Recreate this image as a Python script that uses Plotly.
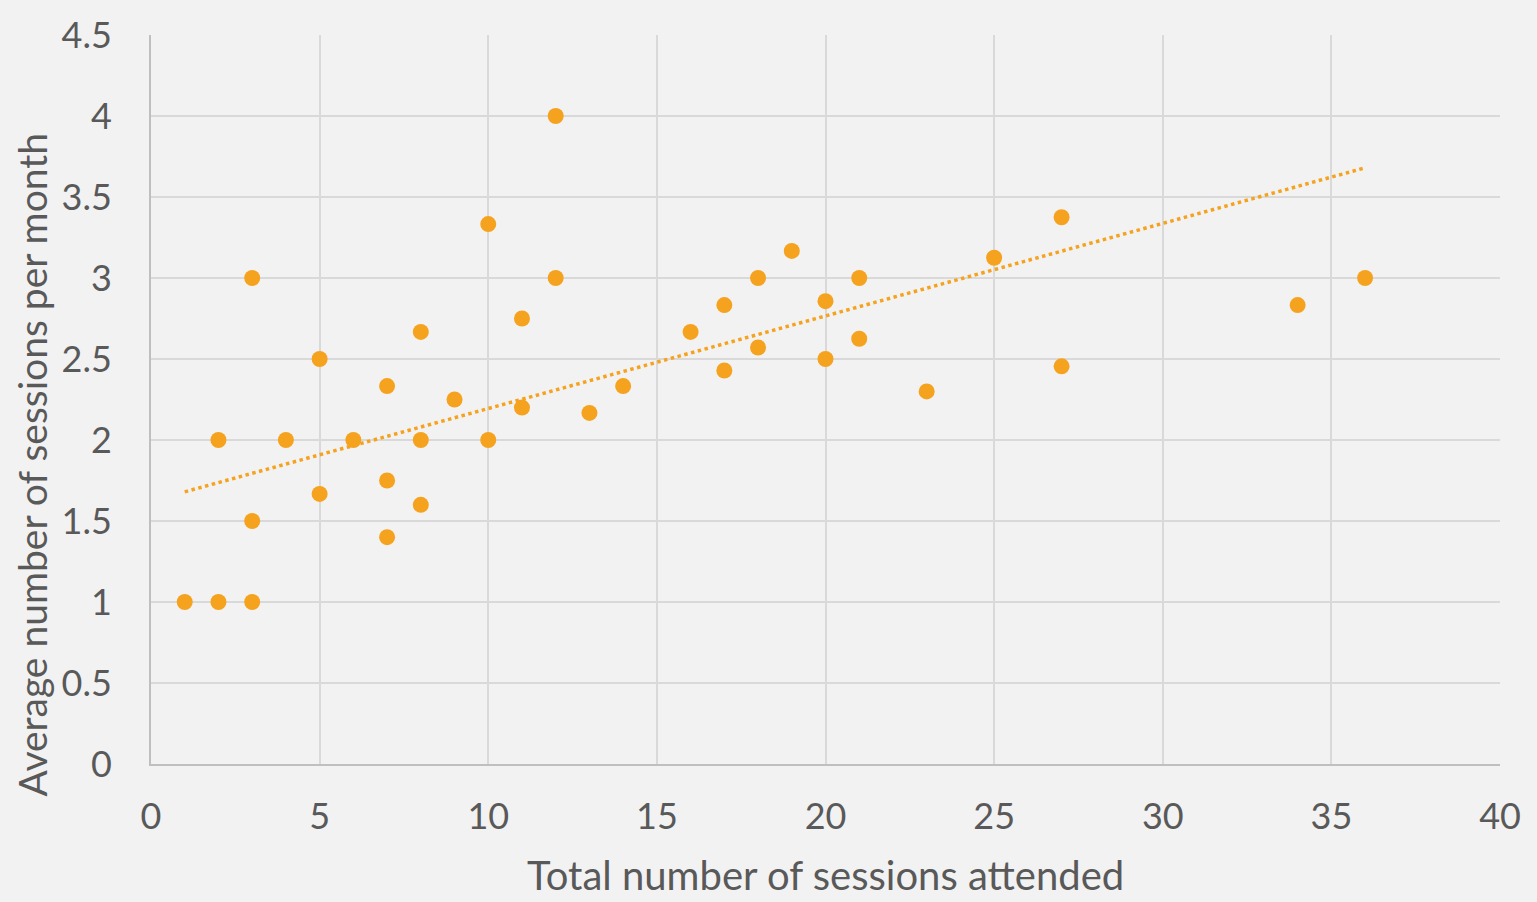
import plotly.graph_objects as go

total_sessions = [1, 2, 3, 2, 3, 3, 4, 5, 5, 6, 7, 7, 7, 8, 8, 8, 9, 10, 10, 11, 11, 12, 12, 13, 14,
                  16, 17, 17, 18, 18, 19, 20, 20, 21, 21, 23, 25, 27, 27, 34, 36]
avg_per_month = [1, 1, 1, 2, 1.5, 3, 2, 2.5, 1.667, 2, 2.333, 1.75, 1.4, 2.667, 2, 1.6, 2.25, 3.333, 2, 2.75, 2.2, 4, 3, 2.167, 2.333,
                 2.667, 2.833, 2.429, 3, 2.571, 3.167, 2.857, 2.5, 3, 2.625, 2.3, 3.125, 3.375, 2.455, 2.833, 3]

# linear trendline end points
trend_x = [1, 36]
trend_y = [1.68, 3.68]

x_ticks = [0, 5, 10, 15, 20, 25, 30, 35, 40]
y_ticks = [0, 0.5, 1, 1.5, 2, 2.5, 3, 3.5, 4, 4.5]
y_tick_labels = ["0", "0.5", "1", "1.5", "2", "2.5", "3", "3.5", "4", "4.5"]

x_title = "Total number of sessions attended"
y_title = "Average number of sessions per month"

orange = "#F5A31E"
text_col = "#595959"
font_family = "Lato, 'Open Sans', sans-serif"

fig = go.Figure()
fig.add_trace(go.Scatter(x=trend_x, y=trend_y, mode="lines",
                         line=dict(color=orange, width=3.5, dash="dot"),
                         hoverinfo="skip", showlegend=False))
fig.add_trace(go.Scatter(x=total_sessions, y=avg_per_month, mode="markers",
                         marker=dict(color=orange, size=16, line=dict(width=0)),
                         showlegend=False))

fig.update_layout(
    width=1537, height=902,
    margin=dict(l=151, r=37, t=33, b=138),
    paper_bgcolor="#F2F2F2", plot_bgcolor="#F2F2F2",
    font=dict(family=font_family, color=text_col, size=36),
    xaxis=dict(range=[0, 40], tickvals=x_ticks, showgrid=True, gridcolor="#D9D9D9", gridwidth=2,
               zeroline=False, showline=True, linecolor="#BFBFBF", linewidth=2,
               ticks="", ticklabelstandoff=20, tickfont=dict(size=36, color=text_col)),
    yaxis=dict(range=[0, 4.5], tickvals=y_ticks, ticktext=y_tick_labels, showgrid=True,
               gridcolor="#D9D9D9", gridwidth=2, zeroline=False, showline=True,
               linecolor="#BFBFBF", linewidth=2, ticks="", ticklabelstandoff=30,
               tickfont=dict(size=36, color=text_col)),
    annotations=[
        dict(text=x_title, xref="paper", yref="paper", x=0.5, y=-0.152, yanchor="middle",
             xanchor="center", showarrow=False, font=dict(size=40, color=text_col)),
        dict(text=y_title, xref="paper", yref="paper", x=-0.088, y=0.41, xanchor="center",
             yanchor="middle", textangle=-90, showarrow=False, font=dict(size=39, color=text_col)),
    ],
)

fig.write_html("out.html", config={"displayModeBar": False},
               post_script="document.body.style.margin='0';document.body.style.background='#F2F2F2';")
